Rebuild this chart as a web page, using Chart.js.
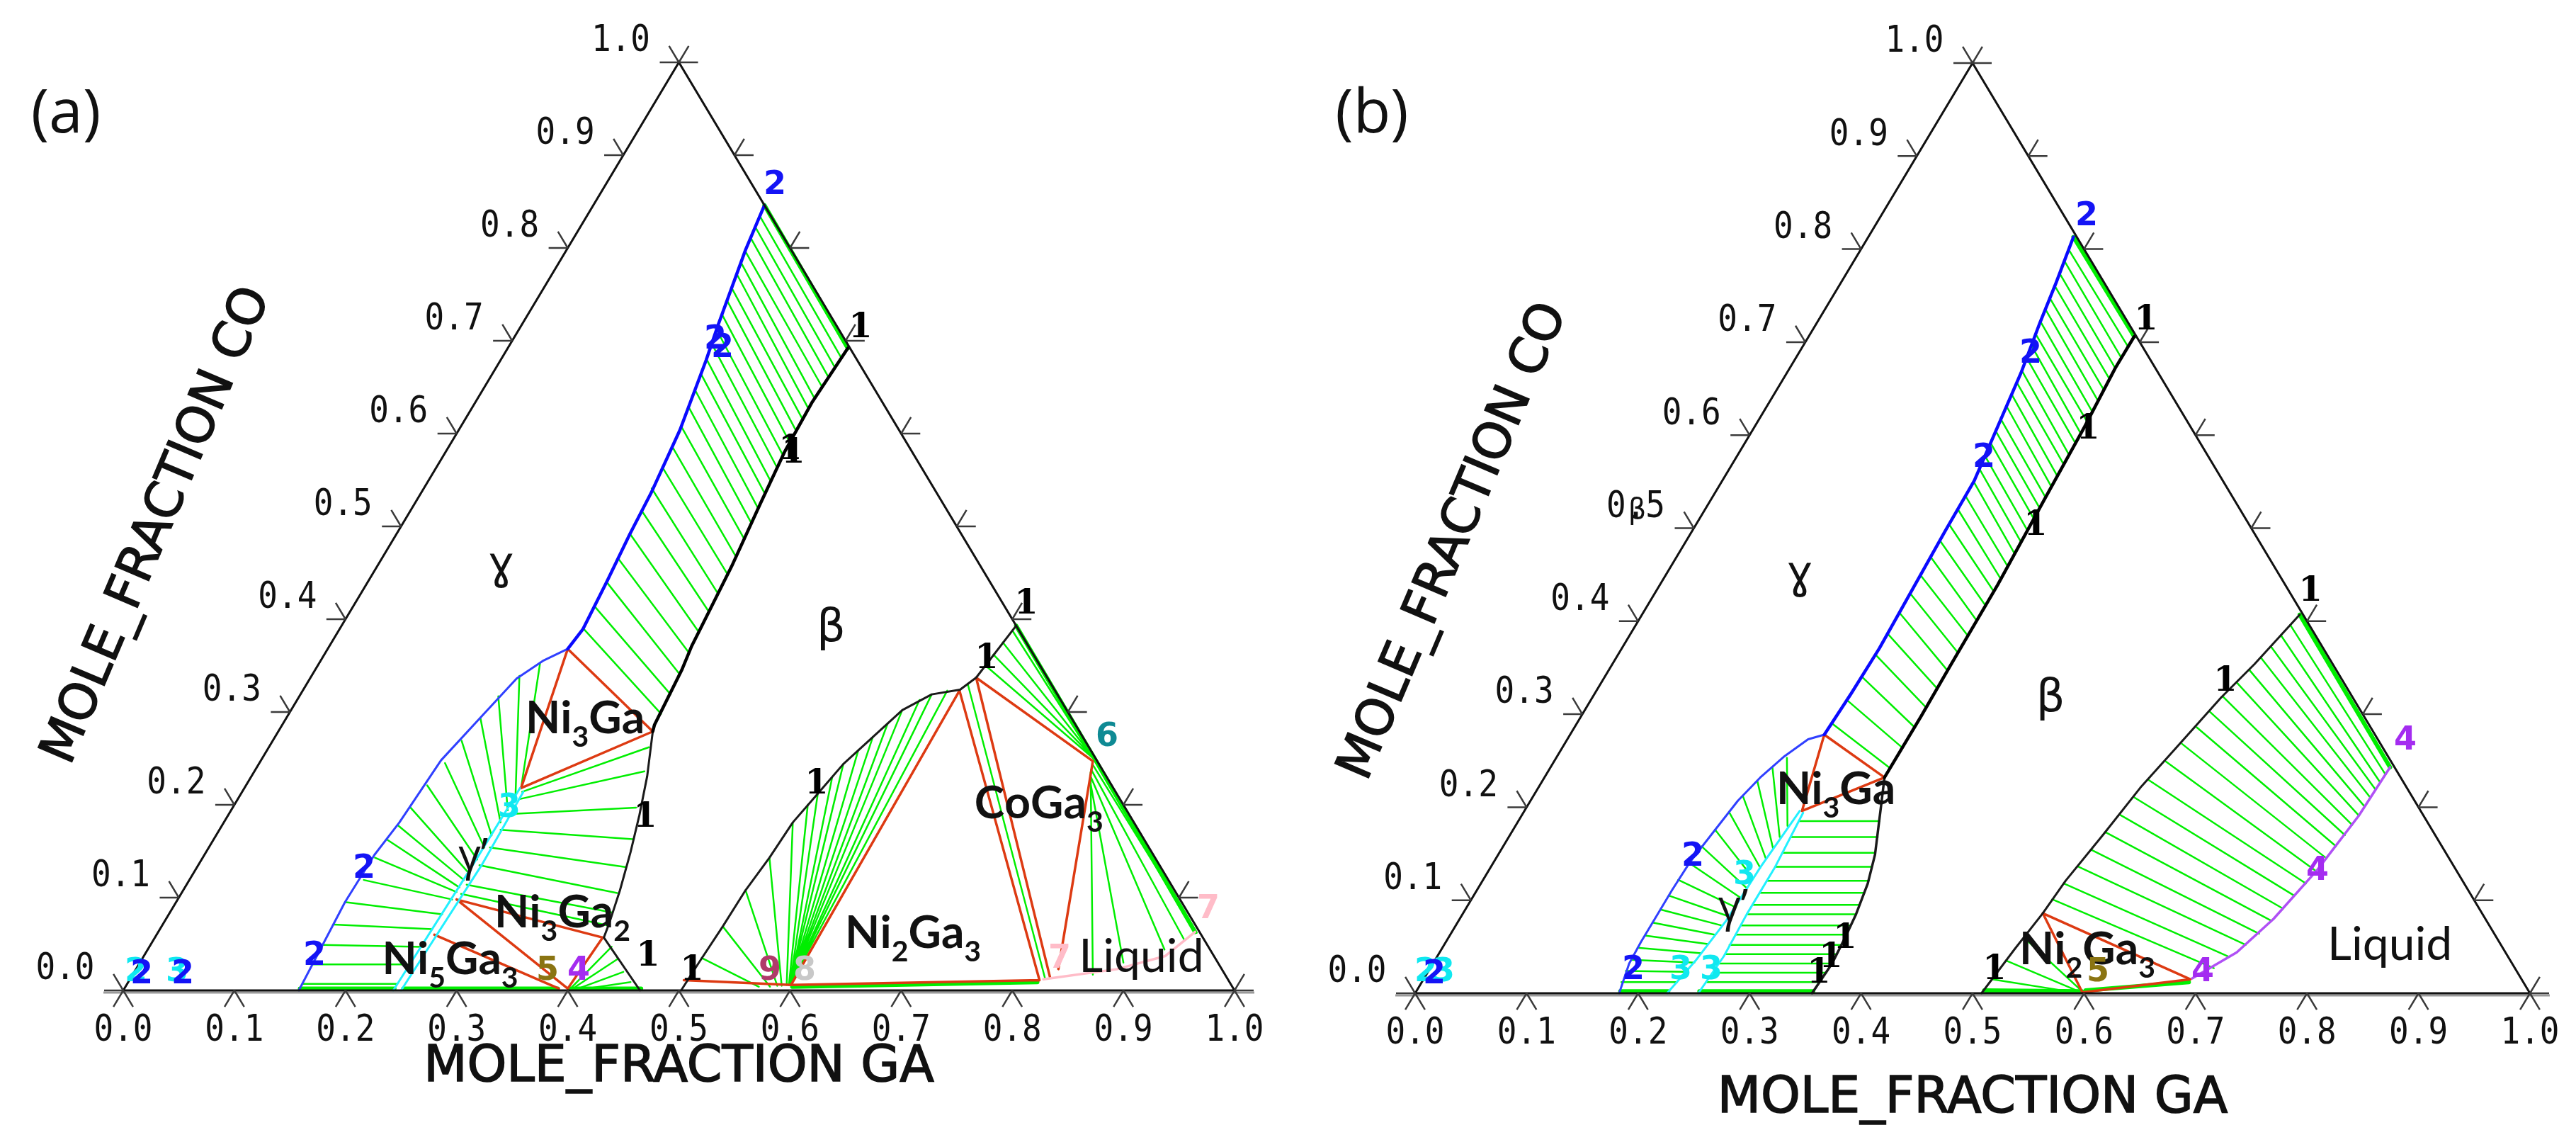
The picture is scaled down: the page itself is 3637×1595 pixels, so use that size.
<!DOCTYPE html>
<html>
<head>
<meta charset="utf-8">
<title>Ni-Co-Ga isothermal sections</title>
<script src="https://cdn.jsdelivr.net/npm/chart.js@4.4.1/dist/chart.umd.min.js"></script>
<style>
  html, body { margin: 0; padding: 0; background: #fff; }
  #page { position: relative; width: 3637px; height: 1595px; overflow: hidden; background: #fff; }
  #page canvas { position: absolute; top: 0; }
</style>
</head>
<body>
<div id="page">
  <canvas id="panelA" width="1818" height="1595" style="left:0px"></canvas>
  <canvas id="panelB" width="1819" height="1595" style="left:1818px"></canvas>
</div>
<script>
// Two ternary sections (Ni-Co-Ga) drawn on scatter charts.
// Phase data: points are [GA, CO] mole fractions, tie-lines are [GA1, CO1, GA2, CO2].
// Plot coordinates: x = GA + CO/2, y = CO.

// --- shared axis ticks ---
const tickValues = [0, 0.1, 0.2, 0.3, 0.4, 0.5, 0.6, 0.7, 0.8, 0.9, 1.0];
const tickLabels = ['0.0', '0.1', '0.2', '0.3', '0.4', '0.5', '0.6', '0.7', '0.8', '0.9', '1.0'];

// ================= panel (a) =================
const aGammaUpper = [[0.154,0.846],[0.161,0.798],[0.177,0.716],[0.185,0.679],[0.199,0.604],[0.207,0.536],[0.210,0.492],[0.215,0.440],[0.219,0.389],[0.216,0.368]];
const aGammaLower = [[0.216,0.368],[0.200,0.355],[0.186,0.336],[0.175,0.296],[0.162,0.248],[0.158,0.181],[0.153,0.146],[0.152,0.095],[0.155,0.047],[0.158,0.000]];
const aBetaUpper = [[0.306,0.692],[0.303,0.634],[0.305,0.580],[0.311,0.525],[0.319,0.457],[0.324,0.396],[0.326,0.371],[0.330,0.345],[0.335,0.286],[0.337,0.279]];
const aBetaLower = [[0.337,0.279],[0.356,0.231],[0.370,0.189],[0.382,0.149],[0.393,0.108],[0.401,0.073],[0.404,0.057],[0.465,0.000]];
const aGpLeft = [[0.248,0.218],[0.247,0.135],[0.243,0.000]];
const aGpRight = [[0.253,0.214],[0.255,0.135],[0.250,0.000]];
const aBetaArch = [[0.502,0.000],[0.503,0.030],[0.505,0.069],[0.506,0.108],[0.510,0.143],[0.512,0.181],[0.519,0.212],[0.526,0.244],[0.538,0.273],[0.550,0.302],[0.568,0.319],[0.591,0.324],[0.599,0.337],[0.607,0.393]];
const aLiquidus = [[0.933,0.063],[0.919,0.037],[0.883,0.023],[0.822,0.012]];

const aTriangles = [
  [0.216,0.368,0.337,0.279],[0.337,0.279,0.249,0.218],[0.249,0.218,0.216,0.368],
  [0.251,0.098,0.403,0.057],[0.251,0.098,0.399,0.002],[0.403,0.057,0.399,0.002],[0.250,0.060,0.391,0.002],
  [0.591,0.323,0.598,0.006],[0.499,0.011,0.598,0.006],[0.598,0.006,0.819,0.011],[0.591,0.323,0.819,0.011],
  [0.599,0.337,0.827,0.014],[0.599,0.337,0.749,0.247],[0.749,0.247,0.830,0.023]
];
const aThick = [
  [0.154,0.846,0.306,0.692],[0.607,0.393,0.749,0.250],[0.749,0.250,0.933,0.063],
  [0.158,0.002,0.243,0.002],[0.251,0.002,0.390,0.002],[0.400,0.002,0.465,0.002],[0.600,0.004,0.818,0.009]
];
const aTiesGammaBeta = [
  [0.156,0.834,0.305,0.682],[0.158,0.822,0.305,0.671],[0.160,0.810,0.304,0.661],[0.161,0.797,0.304,0.650],
  [0.164,0.784,0.303,0.638],[0.167,0.771,0.303,0.627],[0.169,0.757,0.304,0.615],[0.172,0.743,0.304,0.603],
  [0.175,0.728,0.305,0.590],[0.177,0.713,0.305,0.577],[0.181,0.697,0.307,0.563],[0.184,0.681,0.308,0.549],
  [0.188,0.664,0.310,0.535],[0.192,0.646,0.312,0.519],[0.196,0.627,0.314,0.503],[0.199,0.607,0.316,0.486],
  [0.201,0.586,0.318,0.467],[0.203,0.564,0.320,0.448],[0.205,0.541,0.321,0.428],[0.208,0.517,0.323,0.408],
  [0.210,0.492,0.325,0.386],[0.212,0.466,0.327,0.364],[0.215,0.440,0.330,0.341],[0.217,0.414,0.333,0.319],
  [0.219,0.390,0.335,0.298]
];
const aTiesGammaGp = [
  [0.199,0.352,0.249,0.218],[0.187,0.339,0.248,0.210],[0.179,0.317,0.249,0.194],[0.175,0.293,0.249,0.181],
  [0.170,0.269,0.248,0.167],[0.167,0.245,0.248,0.154],[0.163,0.221,0.248,0.141],[0.160,0.197,0.247,0.127],
  [0.158,0.178,0.247,0.119],[0.157,0.162,0.247,0.111],[0.155,0.143,0.247,0.106],[0.157,0.119,0.247,0.098],
  [0.153,0.095,0.246,0.082],[0.154,0.071,0.245,0.066],[0.155,0.049,0.245,0.047],[0.157,0.028,0.244,0.028],
  [0.158,0.007,0.243,0.007]
];
const aTiesGpBeta = [
  [0.252,0.214,0.342,0.262],[0.253,0.206,0.351,0.236],[0.253,0.190,0.363,0.197],[0.253,0.173,0.377,0.163],
  [0.253,0.154,0.385,0.133],[0.253,0.135,0.392,0.105],[0.252,0.114,0.398,0.084],[0.252,0.104,0.401,0.070]
];
const aTiesBetaNi3Ga2 = [[0.402,0.004,0.416,0.047],[0.405,0.004,0.428,0.034],[0.410,0.003,0.440,0.020],[0.416,0.002,0.452,0.009]];
const aTiesBetaNi2Ga3 = [
  [0.503,0.035,0.570,0.004],[0.505,0.069,0.580,0.004],[0.506,0.108,0.586,0.005],[0.510,0.143,0.590,0.005],
  [0.512,0.181,0.594,0.006],[0.516,0.200,0.596,0.006],[0.519,0.212,0.597,0.006],[0.523,0.230,0.597,0.006],
  [0.526,0.244,0.597,0.006],[0.532,0.259,0.597,0.006],[0.538,0.273,0.597,0.006],[0.544,0.288,0.597,0.006],
  [0.550,0.302,0.597,0.006],[0.560,0.313,0.597,0.006],[0.568,0.319,0.597,0.006],[0.580,0.323,0.597,0.006]
];
const aTiesBetaCoGa3 = [[0.606,0.388,0.740,0.258],[0.604,0.375,0.744,0.254],[0.602,0.362,0.746,0.252],[0.601,0.350,0.748,0.250],[0.595,0.330,0.823,0.013]];
const aTiesCoGa3Liq = [[0.750,0.244,0.935,0.062],[0.752,0.238,0.928,0.054],[0.754,0.232,0.915,0.044],[0.757,0.226,0.885,0.030],[0.753,0.235,0.864,0.017]];

// ================= panel (b) =================
const bGammaUpper = [[0.184,0.813],[0.193,0.764],[0.200,0.721],[0.210,0.667],[0.218,0.609],[0.226,0.551],[0.227,0.497],[0.229,0.434],[0.231,0.371],[0.230,0.322],[0.228,0.278]];
const bGammaLower = [[0.228,0.278],[0.216,0.273],[0.204,0.255],[0.194,0.233],[0.186,0.207],[0.181,0.174],[0.176,0.141],[0.175,0.111],[0.175,0.080],[0.175,0.055],[0.176,0.032],[0.183,0.000]];
const bBetaUpper = [[0.292,0.706],[0.292,0.672],[0.296,0.609],[0.299,0.531],[0.303,0.439],[0.304,0.351],[0.305,0.298],[0.305,0.232]];
const bBetaLower = [[0.305,0.232],[0.317,0.202],[0.338,0.149],[0.347,0.118],[0.353,0.085],[0.356,0.057],[0.358,0.032],[0.356,0.000]];
const bGpLeft = [[0.247,0.196],[0.242,0.136],[0.240,0.078],[0.234,0.035],[0.226,0.000]];
const bGpRight = [[0.251,0.194],[0.255,0.136],[0.255,0.085],[0.257,0.040],[0.254,0.000]];
const bBetaLiq = [[0.590,0.407],[0.576,0.354],[0.564,0.318],[0.551,0.265],[0.540,0.221],[0.532,0.171],[0.523,0.121],[0.520,0.086],[0.514,0.047],[0.508,0.000]];
const bLiquidus = [[0.753,0.243],[0.751,0.191],[0.743,0.133],[0.730,0.080],[0.715,0.044],[0.689,0.016]];

const bTriangles = [
  [0.228,0.278,0.305,0.232],[0.228,0.278,0.249,0.196],[0.249,0.196,0.305,0.232],
  [0.520,0.086,0.688,0.015],[0.520,0.086,0.598,0.001],[0.598,0.001,0.688,0.015]
];
const bThick = [
  [0.184,0.813,0.292,0.706],[0.590,0.407,0.753,0.243],[0.183,0.002,0.226,0.002],
  [0.254,0.002,0.356,0.002],[0.509,0.003,0.597,0.002],[0.600,0.003,0.688,0.012]
];
const bTiesGammaBeta = [
  [0.186,0.800,0.292,0.695],[0.189,0.787,0.292,0.683],[0.191,0.774,0.292,0.672],[0.193,0.761,0.293,0.660],
  [0.195,0.748,0.294,0.648],[0.198,0.735,0.294,0.637],[0.200,0.722,0.295,0.625],[0.202,0.709,0.296,0.614],
  [0.205,0.696,0.296,0.602],[0.207,0.683,0.297,0.591],[0.209,0.670,0.297,0.579],[0.211,0.657,0.298,0.568],
  [0.213,0.644,0.298,0.556],[0.215,0.631,0.298,0.545],[0.216,0.618,0.299,0.533],[0.218,0.605,0.299,0.522],
  [0.220,0.592,0.300,0.510],[0.222,0.578,0.300,0.498],[0.224,0.564,0.301,0.485],[0.226,0.550,0.301,0.473],
  [0.226,0.535,0.302,0.459],[0.227,0.520,0.302,0.446],[0.227,0.504,0.303,0.432],[0.227,0.487,0.303,0.417],
  [0.228,0.469,0.303,0.401],[0.228,0.450,0.304,0.384],[0.229,0.430,0.304,0.366],[0.230,0.409,0.304,0.347],
  [0.230,0.387,0.304,0.328],[0.231,0.364,0.305,0.307],[0.231,0.340,0.305,0.286],[0.230,0.315,0.305,0.264],
  [0.229,0.290,0.305,0.242]
];
const bTiesGammaGp = [
  [0.207,0.253,0.244,0.180],[0.199,0.243,0.243,0.168],[0.193,0.228,0.243,0.156],[0.188,0.212,0.242,0.145],
  [0.184,0.195,0.242,0.135],[0.181,0.176,0.241,0.124],[0.178,0.158,0.241,0.113],[0.176,0.140,0.240,0.103],
  [0.175,0.122,0.240,0.093],[0.175,0.105,0.239,0.083],[0.175,0.090,0.238,0.073],[0.175,0.076,0.237,0.063],
  [0.175,0.062,0.236,0.053],[0.175,0.049,0.235,0.043],[0.176,0.036,0.234,0.033],[0.177,0.024,0.232,0.023],
  [0.179,0.012,0.229,0.012]
];
const bTiesGpBeta = [
  [0.252,0.185,0.324,0.185],[0.253,0.168,0.331,0.168],[0.254,0.151,0.337,0.151],[0.255,0.136,0.341,0.136],
  [0.255,0.121,0.346,0.121],[0.255,0.108,0.349,0.108],[0.255,0.095,0.351,0.095],[0.255,0.085,0.353,0.085],
  [0.256,0.073,0.354,0.073],[0.256,0.063,0.355,0.063],[0.256,0.052,0.356,0.052],[0.257,0.042,0.357,0.042],
  [0.257,0.032,0.358,0.032],[0.256,0.022,0.358,0.022],[0.255,0.012,0.357,0.012]
];
const bTiesBetaLiq = [
  [0.587,0.396,0.753,0.235],[0.584,0.385,0.752,0.227],[0.581,0.373,0.752,0.219],[0.578,0.361,0.752,0.210],
  [0.574,0.348,0.751,0.201],[0.570,0.334,0.751,0.191],[0.565,0.319,0.750,0.181],[0.561,0.303,0.749,0.170],
  [0.558,0.286,0.747,0.158],[0.554,0.268,0.745,0.145],[0.549,0.249,0.743,0.131],[0.542,0.230,0.740,0.118],
  [0.539,0.211,0.736,0.105],[0.536,0.192,0.733,0.091],[0.533,0.173,0.729,0.078],[0.530,0.154,0.725,0.064],
  [0.527,0.136,0.719,0.052],[0.523,0.118,0.711,0.039],[0.521,0.101,0.703,0.027]
];
const bTiesBetaNi2Ga3 = [[0.516,0.060,0.596,0.003],[0.513,0.035,0.592,0.003],[0.510,0.015,0.585,0.002]];

// --- text annotations, anchored in plot coordinates [text, x, y, style] ---
const aPhaseText = [
  ['ɣ', 0.340, 0.456, 'G'], ['β', 0.637, 0.389, 'G'], ['γ’', 0.315, 0.1435, 'P'],
  ['Ni_3Ga', 0.362, 0.277, 'F'], ['Ni_3Ga_2', 0.334, 0.068, 'F'], ['Ni_5Ga_3', 0.233, 0.0176, 'F'],
  ['Ni_2Ga_3', 0.6495, 0.0458, 'F'], ['CoGa_3', 0.766, 0.1855, 'F'], ['Liquid', 0.860, 0.0198, 'L']
];
const bPhaseText = [
  ['ɣ', 0.345, 0.448, 'G'], ['β', 0.570, 0.316, 'G'], ['γ’', 0.2853, 0.0914, 'P'],
  ['Ni_3Ga', 0.324, 0.2034, 'F'], ['Ni_2Ga_3', 0.5419, 0.0312, 'F'], ['Liquid', 0.8183, 0.0358, 'L']
];
// line labels: [text, x, y, colour key]
const aLineText = [
  ['2',0.5864,0.8672,'blue'],['2',0.5328,0.7008,'blue'],['2',0.5392,0.6916,'blue'],['1',0.6635,0.7137,'one'],
  ['1',0.6004,0.5824,'one'],['1',0.6029,0.5786,'one'],['1',0.4697,0.1855,'one'],['1',0.4723,0.0366,'one'],
  ['2',0.2167,0.1305,'blue'],['2',0.1721,0.0366,'blue'],['5',0.3818,0.0206,'olive'],['4',0.4098,0.0206,'purple'],
  ['1',0.5118,0.0206,'one'],['1',0.8126,0.4153,'one'],['1',0.7769,0.3565,'one'],['1',0.6240,0.2214,'one'],
  ['9',0.5819,0.0206,'maroon'],['8',0.6131,0.0206,'silver'],['6',0.8853,0.2725,'teal'],['7',0.9764,0.0870,'pink'],
  ['7',0.8426,0.0336,'pink'],['3',0.3474,0.1962,'cyan'],['2',0.0115,0.0191,'cyan'],['2',0.0166,0.0168,'blue'],
  ['3',0.0484,0.0191,'cyan'],['2',0.0535,0.0168,'blue']
];
const bLineText = [
  ['2',0.6023,0.8347,'blue'],['2',0.5521,0.6870,'blue'],['2',0.5102,0.5750,'blue'],['1',0.6557,0.7235,'one'],
  ['1',0.6036,0.6055,'one'],['1',0.5565,0.5019,'one'],['1',0.8031,0.4318,'one'],['1',0.7268,0.3344,'one'],
  ['4',0.8882,0.2711,'purple'],['4',0.8094,0.1310,'purple'],['4',0.7065,0.0221,'purple'],['5',0.6125,0.0221,'olive'],
  ['1',0.5197,0.0244,'one'],['2',0.2490,0.1462,'blue'],['2',0.1957,0.0244,'blue'],['3',0.2382,0.0244,'cyan'],
  ['3',0.2656,0.0244,'cyan'],['3',0.2954,0.1264,'cyan'],['1',0.3856,0.0579,'one'],['1',0.3729,0.0373,'one'],
  ['1',0.3621,0.0206,'one'],['2',0.0095,0.0221,'cyan'],['3',0.0254,0.0221,'cyan'],['2',0.0172,0.0198,'blue']
];

const labelColours = { blue: '#1414f5', cyan: '#10e8f0', olive: '#8a7412', purple: '#a42cf0', maroon: '#b03a6a', silver: '#c8c8c8', teal: '#0f8a94', pink: '#ffbcc8', one: '#000' };
const GREEN = '#00ee00';

// --- helpers ---
const tern = (ga, co) => ({ x: ga + co / 2, y: co });
const path = pts => pts.map(p => tern(p[0], p[1]));
const segs = rows => rows.flatMap(r => [tern(r[0], r[1]), tern(r[2], r[3]), { x: 0, y: null }]);

function lineSet(data, color, width) {
  return { data, showLine: true, borderColor: color, borderWidth: width, pointRadius: 0, pointHoverRadius: 0,
           fill: false, spanGaps: false, clip: false, borderCapStyle: 'round', borderJoinStyle: 'round' };
}

// draws "Ni_3Ga_2" with subscripts
function drawFormula(ctx, s, x, y, size, weight, family) {
  let cx = x;
  for (let i = 0; i < s.length; i++) {
    let ch = s[i], sub = false;
    if (ch === '_') { ch = s[++i]; sub = true; }
    ctx.font = `${weight} ${sub ? Math.round(size * 0.64) : size}px ${family}`;
    ctx.fillText(ch, cx, y + (sub ? size * 0.3 : 0));
    cx += ctx.measureText(ch).width;
  }
}

// slightly heavier text for the axis titles
function heavyText(ctx, t, x, y) {
  ctx.fillText(t, x, y);
  ctx.lineWidth = 1.6; ctx.strokeStyle = ctx.fillStyle;
  ctx.strokeText(t, x, y);
}

const ternaryPlugin = {
  id: 'ternary',
  afterDatasetsDraw(chart, args, o) {
    const ctx = chart.ctx, xs = chart.scales.x, ys = chart.scales.y;
    const P = (x, y) => [xs.getPixelForValue(x), ys.getPixelForValue(y)];
    const unit = (a, b) => { const dx = b[0] - a[0], dy = b[1] - a[1], l = Math.hypot(dx, dy); return [dx / l, dy / l]; };
    const bl = P(0, 0), br = P(1, 0), ap = P(0.5, 1);
    const downLeft = unit(ap, bl), downRight = unit(ap, br), upLeft = unit(br, ap), upRight = unit(bl, ap);
    ctx.save();

    // frame (base has a grey shadow line)
    ctx.lineCap = 'butt';
    ctx.strokeStyle = '#9a9a9a'; ctx.lineWidth = 3;
    ctx.beginPath(); ctx.moveTo(bl[0] - 28, bl[1] + 3); ctx.lineTo(br[0] + 28, br[1] + 3); ctx.stroke();
    ctx.strokeStyle = '#111'; ctx.lineWidth = 3;
    ctx.beginPath(); ctx.moveTo(bl[0], bl[1]); ctx.lineTo(br[0], br[1]); ctx.lineTo(ap[0], ap[1]); ctx.closePath(); ctx.stroke();

    // ticks: short legs along the ternary grid directions
    const L = 27;
    ctx.strokeStyle = '#3a3a3a'; ctx.lineWidth = 2.5;
    const leg = (p, d) => { ctx.moveTo(p[0], p[1]); ctx.lineTo(p[0] + d[0] * L, p[1] + d[1] * L); };
    ctx.beginPath();
    tickValues.forEach(v => {
      const b = P(v, 0); leg(b, downLeft); leg(b, downRight);
      const l = P(v / 2, v); leg(l, [-1, 0]); leg(l, upLeft);
      const r = P(1 - v / 2, v); leg(r, [1, 0]); leg(r, upRight);
    });
    ctx.stroke();

    // tick labels
    ctx.fillStyle = '#111';
    ctx.textAlign = 'center'; ctx.textBaseline = 'middle';
    ctx.font = '46px "DejaVu Sans Mono"';
    const tickText = (t, x, y) => { ctx.save(); ctx.translate(x, y); ctx.scale(1, 1.12); ctx.fillText(t, 0, 0); ctx.restore(); };
    tickValues.forEach((v, i) => {
      const b = P(v, 0); tickText(tickLabels[i], b[0], b[1] + o.bottomDy);
      const l = P(v / 2, v); tickText(tickLabels[i], l[0] - 82, l[1] - 29);
      if (o.betaOnHalf && v === 0.5) {
        ctx.save(); ctx.font = '40px "DejaVu Sans"'; ctx.fillText('β', l[0] - 80, l[1] - 24); ctx.restore();
      }
    });

    // axis titles
    ctx.font = '71px "DejaVu Sans"';
    heavyText(ctx, 'MOLE_FRACTION GA', (bl[0] + br[0]) / 2, bl[1] + o.titleDy);
    const u = unit(bl, ap), n = [u[1], -u[0]];
    const e = P(o.coT / 2, o.coT);
    ctx.save();
    ctx.translate(e[0] + n[0] * o.coD, e[1] + n[1] * o.coD);
    ctx.rotate(o.coAngle * Math.PI / 180);
    heavyText(ctx, 'MOLE_FRACTION CO', 0, 0);
    ctx.restore();

    // panel tag
    ctx.font = '86px "Open Sans"';
    ctx.fillText(o.tag, bl[0] + o.tagDx, ap[1] + o.tagDy);

    // phase names
    o.phases.forEach(([t, x, y, k]) => {
      const p = P(x, y);
      if (k === 'F') {
        ctx.textAlign = 'left'; ctx.textBaseline = 'alphabetic';
        drawFormula(ctx, t, p[0], p[1], 64, 'bold', 'Lato');
      } else if (k === 'L') {
        ctx.textAlign = 'left'; ctx.textBaseline = 'alphabetic';
        ctx.font = '66px Lato'; ctx.fillText(t, p[0], p[1]);
      } else {
        ctx.textAlign = 'center'; ctx.textBaseline = 'middle';
        ctx.font = k === 'G' ? '64px "DejaVu Sans"' : '62px "Open Sans"';
        ctx.fillText(t, p[0], p[1]);
      }
    });

    // line numbers
    ctx.textAlign = 'center'; ctx.textBaseline = 'middle';
    o.numbers.forEach(([t, x, y, c]) => {
      const p = P(x, y);
      ctx.fillStyle = labelColours[c];
      ctx.font = c === 'one' ? 'bold 48px "DejaVu Serif"' : 'bold 46px "DejaVu Sans"';
      ctx.fillText(t, p[0], p[1]);
    });
    ctx.restore();
  }
};

function makeChart(id, padding, datasets, deco) {
  datasets.forEach((d, i) => { d.order = datasets.length - i; });
  return new Chart(document.getElementById(id), {
    type: 'scatter',
    data: { datasets },
    options: {
      responsive: false, animation: false, events: [],
      layout: { padding },
      scales: {
        x: { type: 'linear', min: 0, max: 1, display: false },
        y: { type: 'linear', min: 0, max: 1, display: false }
      },
      plugins: { legend: { display: false }, tooltip: { enabled: false }, ternary: deco }
    },
    plugins: [ternaryPlugin]
  });
}

// datasets listed back to front
makeChart('panelA', { left: 174, right: 75, top: 88, bottom: 197 }, [
  lineSet(segs(aThick), GREEN, 6),
  lineSet(segs(aTiesGammaBeta), GREEN, 2.5),
  lineSet(segs(aTiesGammaGp), GREEN, 2.5),
  lineSet(segs(aTiesGpBeta), GREEN, 2.5),
  lineSet(segs(aTiesBetaNi3Ga2), GREEN, 2.5),
  lineSet(segs(aTiesBetaNi2Ga3), GREEN, 2.5),
  lineSet(segs(aTiesBetaCoGa3), GREEN, 2.5),
  lineSet(segs(aTiesCoGa3Liq), GREEN, 2.5),
  lineSet(segs(aTriangles), '#dd3a12', 3.5),
  lineSet(path(aLiquidus), '#ffbcc8', 3.5),
  lineSet(path(aGpLeft), '#22f0ff', 3),
  lineSet(path(aGpRight), '#22f0ff', 3),
  lineSet(path(aGammaLower), '#3040ff', 3),
  lineSet(path(aGammaUpper), '#0a0aff', 4.5),
  lineSet(path(aBetaLower), '#1a1a1a', 3),
  lineSet(path(aBetaUpper), '#000', 4.5),
  lineSet(path(aBetaArch), '#1a1a1a', 3)
], { tag: '(a)', tagDx: -81, tagDy: 74, bottomDy: 58, titleDy: 110, coT: 0.385, coD: 295, coAngle: -67,
     phases: aPhaseText, numbers: aLineText, betaOnHalf: false });

makeChart('panelB', { left: 180, right: 65, top: 89, bottom: 193 }, [
  lineSet(segs(bThick), GREEN, 6),
  lineSet(segs(bTiesGammaBeta), GREEN, 2.5),
  lineSet(segs(bTiesGammaGp), GREEN, 2.5),
  lineSet(segs(bTiesGpBeta), GREEN, 2.5),
  lineSet(segs(bTiesBetaLiq), GREEN, 2.5),
  lineSet(segs(bTiesBetaNi2Ga3), GREEN, 2.5),
  lineSet(segs(bTriangles), '#dd3a12', 3.5),
  lineSet(path(bLiquidus), '#b050f5', 3.5),
  lineSet(path(bGpLeft), '#22f0ff', 3),
  lineSet(path(bGpRight), '#22f0ff', 3),
  lineSet(path(bGammaLower), '#3040ff', 3),
  lineSet(path(bGammaUpper), '#0a0aff', 4.5),
  lineSet(path(bBetaLower), '#1a1a1a', 3.5),
  lineSet(path(bBetaUpper), '#000', 4.5),
  lineSet(path(bBetaLiq), '#1a1a1a', 3)
], { tag: '(b)', tagDx: -61, tagDy: 73, bottomDy: 58, titleDy: 150, coT: 0.376, coD: 280, coAngle: -67,
     phases: bPhaseText, numbers: bLineText, betaOnHalf: true });
</script>
</body>
</html>
